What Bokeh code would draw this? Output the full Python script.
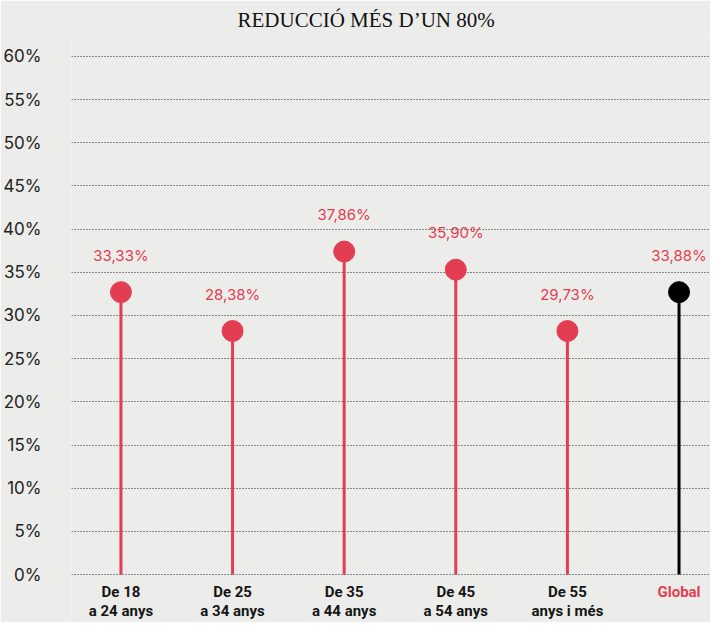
from bokeh.plotting import figure
from bokeh.models import Range1d, FixedTicker, PrintfTickFormatter, ColumnDataSource, Title
from bokeh.core.properties import value
from bokeh.embed import file_html
from bokeh.resources import INLINE

# ---- data ----
categories = ["De 18\na 24 anys", "De 25\na 34 anys", "De 35\na 44 anys",
              "De 45\na 54 anys", "De 55\nanys i més", "Global"]
values = [32.7, 28.2, 37.4, 35.3, 28.2, 32.7]          # dot heights as drawn
value_labels = ["33,33%", "28,38%", "37,86%", "35,90%", "29,73%", "33,88%"]
y_ticks = [0, 5, 10, 15, 20, 25, 30, 35, 40, 45, 50, 55, 60]
title_text = "REDUCCIÓ MÉS D\u2019UN 80%"

RED = "#E23D51"
BG = "#ECEDEA"

idx = list(range(len(categories)))
dot_colors = [RED] * (len(categories) - 1) + ["#000000"]
cat_colors = ["#151515"] * (len(categories) - 1) + [RED]

src = ColumnDataSource(dict(x=idx, y=values, base=[0] * len(idx), lab=value_labels,
                            cat=categories, dc=dot_colors, cc=cat_colors))

p = figure(width=710, height=622, output_backend="svg", toolbar_location=None,
           x_range=Range1d(-0.443, 5.282), y_range=Range1d(-5.55, 62.3),
           min_border_left=70, min_border_right=0, min_border_top=0, min_border_bottom=0)
p.title = Title(text=title_text, align="left", offset=166,
                text_font="Liberation Serif", text_font_size="21px",
                text_font_style="normal", text_color="#111111")
p.background_fill_color = BG
p.border_fill_color = BG
p.outline_line_color = None

p.xaxis.visible = False
p.xgrid.visible = False

ax = p.yaxis[0]
ax.ticker = FixedTicker(ticks=y_ticks)
ax.formatter = PrintfTickFormatter(format="%d%%")
ax.axis_line_color = None
ax.major_tick_line_color = None
ax.minor_tick_line_color = None
ax.major_tick_out = 0
ax.major_label_standoff = 30
ax.major_label_text_font = "Inter"
ax.major_label_text_font_size = "17px"
ax.major_label_text_color = "#222222"

g = p.ygrid[0]
g.ticker = FixedTicker(ticks=y_ticks)
g.grid_line_color = "#000000"
g.grid_line_dash = "1 2"
g.grid_line_width = 1
g.grid_line_alpha = 0.85

p.segment(x0="x", y0="base", x1="x", y1="y", line_color="dc", line_width=3, source=src)
p.scatter(x="x", y="y", size=21, fill_color="dc", line_color="dc", source=src)

p.text(x="x", y="y", text="lab", y_offset=-37, text_align="center", text_baseline="middle",
       text_font=value("Inter"), text_font_size="15px", text_font_style="normal",
       text_color=RED, source=src)

p.text(x="x", y="base", text="cat", y_offset=8, text_align="center", text_baseline="top",
       text_font=value("Roboto"), text_font_size="15px", text_font_style="bold",
       text_color="cc", text_line_height=1.1, source=src)

open("out.html", "w").write(file_html(p, INLINE))
